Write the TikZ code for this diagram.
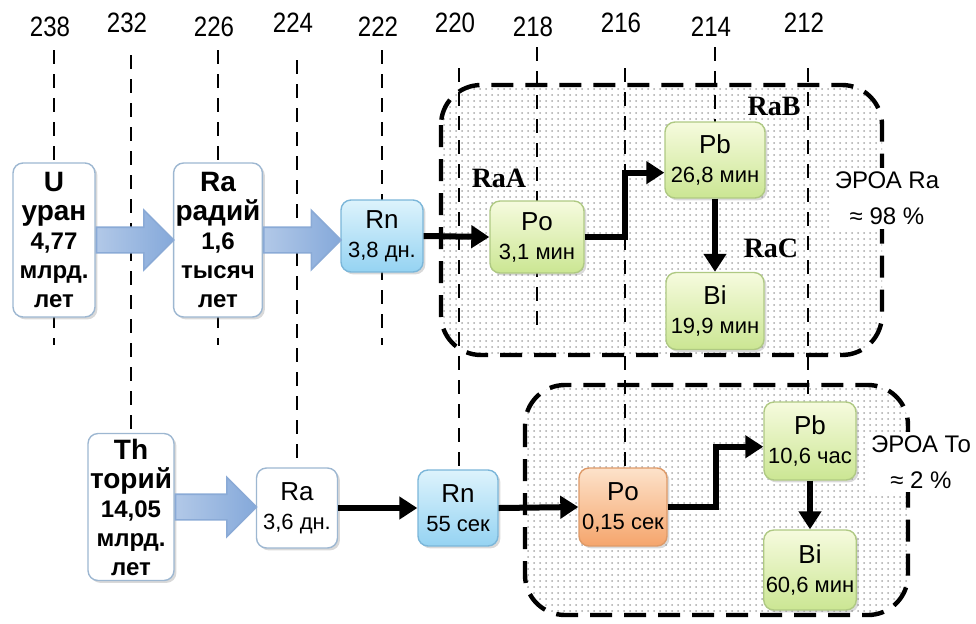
\documentclass[tikz,border=0pt]{standalone}
\usepackage{fontspec}
\setmainfont{Liberation Sans}
\newfontfamily\narrowfont{Liberation Sans}[FakeStretch=0.86]
\newfontfamily\rafont{Liberation Serif}
\usetikzlibrary{calc, arrows.meta, shapes.arrows, patterns, shadows}
\definecolor{BoxEdge}{HTML}{9DB7D1}
\definecolor{RnTop}{HTML}{DDF3FC}
\definecolor{RnBot}{HTML}{95D3F2}
\definecolor{RnEdge}{HTML}{7BB6D9}
\definecolor{GreenTop}{HTML}{F6FBDE}
\definecolor{GreenBot}{HTML}{CBE693}
\definecolor{GreenEdge}{HTML}{AFC983}
\definecolor{PeachTop}{HTML}{FDE2CA}
\definecolor{PeachBot}{HTML}{F5A56C}
\definecolor{PeachEdge}{HTML}{DE9A68}
\definecolor{ArrowBlue}{HTML}{7EA4D8}
\definecolor{ArrowLight}{HTML}{EAF0F9}
\definecolor{ArrowEdge}{HTML}{8AAAD6}
\definecolor{DotGray}{HTML}{A8A8A8}
\newcommand{\isotitle}[1]{{\fontsize{13}{14.5}\selectfont #1}}
\newcommand{\bigline}[1]{{\fontsize{14}{14.5}\selectfont #1}}
\tikzset{
    isobox/.style={rectangle, rounded corners=5pt, draw=BoxEdge, line width=0.7pt,
        fill=white, align=center, inner sep=1pt,
        drop shadow={opacity=0.3, shadow xshift=1.2pt, shadow yshift=-1.2pt}},
    parentbox/.style={isobox, font=\bfseries\fontsize{12}{14.5}\selectfont},
    daughter/.style={isobox, font=\fontsize{11}{14.5}\selectfont},
    rnbox/.style={daughter, top color=RnTop, bottom color=RnBot, draw=RnEdge},
    greenbox/.style={daughter, top color=GreenTop, bottom color=GreenBot, draw=GreenEdge},
    peachbox/.style={daughter, top color=PeachTop, bottom color=PeachBot, draw=PeachEdge},
    fatarrow/.style={single arrow, draw=ArrowEdge, line width=0.8pt,
        inner xsep=0pt, inner ysep=6pt,
        left color=ArrowBlue!60, middle color=ArrowLight, right color=ArrowBlue!95,
        minimum width=29pt, single arrow head extend=8.5pt, anchor=tail},
    decay/.style={line width=3pt, line join=miter, -{Triangle[length=9pt, width=11pt]}},
    region/.style={line width=2.2pt, dash pattern=on 11pt off 6pt, rounded corners=20pt,
        pattern=dots, pattern color=DotGray},
    massline/.style={line width=0.9pt, dash pattern=on 7pt off 5pt},
    masslabel/.style={font=\narrowfont\fontsize{14}{16}\selectfont, inner sep=1pt},
    series/.style={font=\rafont\bfseries\fontsize{14}{16}\selectfont, inner sep=1pt},
    share/.style={fill=white, align=center, inner sep=2pt, font=\fontsize{12}{18}\selectfont}
}

\begin{document}
\begin{tikzpicture}[x=0.5pt, y=-0.5pt]
    \useasboundingbox (0,0) rectangle (976,623);

    % =========================================
    % 1. 区域 (ЭРОА regions)
    % =========================================
    \draw[region] (441,85) rectangle (882,355);
    \draw[region] (525,385) rectangle (908,615);

    % =========================================
    % 2. 质量数刻度 (mass number lines)
    % =========================================
    \foreach \xx/\ya/\yb/\ly/\mass in {54/50/345/27/238, 131/55/433/23/232,
            218/50/345/27/226, 297/60/468/23/224, 382/50/345/27/222,
            459/68/470/23/220, 537/47/330/27/218, 625/68/468/23/216,
            715/47/122/27/214, 808/68/402/23/212} {
        \node[masslabel] (m\mass) at (\xx-4,\ly) {\mass};
        \draw[massline] (\xx,\ya) -- (\xx,\yb);
    }

    % 标签 (labels)
    \node[share] (eroaRa) at (887,198) {ЭРОА Ra\\≈ 98 \%};
    \node[share] (eroaTh) at (921,462) {ЭРОА То\\≈ 2 \%};
    \node[series] (raA) at (499,178) {RaA};
    \node[series] (raB) at (774,106) {RaB};
    \node[series] (raC) at (771,248) {RaC};

    % =========================================
    % 3. 核素 (nuclides)
    % =========================================
    % 铀系 (uranium series)
    \node[parentbox, minimum width=41pt, minimum height=77pt] (u) at (54,240)
        {\bigline{U}\\\bigline{уран}\\4,77\\млрд.\\лет};
    \node[parentbox, minimum width=41pt, minimum height=77pt] (ra1) at (218,240)
        {\bigline{Ra}\\\bigline{радий}\\1,6\\тысяч\\лет};
    \node[rnbox, minimum width=41pt, minimum height=36pt] (rn1) at (382,236)
        {\isotitle{Rn}\\3,8 дн.};
    \node[greenbox, minimum width=47pt, minimum height=36pt] (po1) at (537,237)
        {\isotitle{Po}\\3,1 мин};
    \node[greenbox, minimum width=50pt, minimum height=38pt] (pb1) at (715,160)
        {\isotitle{Pb}\\26,8 мин};
    \node[greenbox, minimum width=49pt, minimum height=38.5pt] (bi1) at (715,311)
        {\isotitle{Bi}\\19,9 мин};

    % 钍系 (thorium series)
    \node[parentbox, minimum width=41.5pt, minimum height=73.5pt] (th) at (131,507)
        {\bigline{Th}\\\bigline{торий}\\14,05\\млрд.\\лет};
    \node[daughter, minimum width=40.5pt, minimum height=40pt] (ra2) at (297,508)
        {\isotitle{Ra}\\3,6 дн.};
    \node[rnbox, minimum width=40pt, minimum height=38pt] (rn2) at (458,508)
        {\isotitle{Rn}\\55 сек};
    \node[peachbox, minimum width=44pt, minimum height=39pt] (po2) at (623,507)
        {\isotitle{Po}\\0,15 сек};
    \node[greenbox, minimum width=46pt, minimum height=39pt] (pb2) at (810,441)
        {\isotitle{Pb}\\10,6 час};
    \node[greenbox, minimum width=46pt, minimum height=40pt] (bi2) at (810,570)
        {\isotitle{Bi}\\60,6 мин};

    % =========================================
    % 4. 衰变箭头 (decay arrows)
    % =========================================
    \foreach \from/\to in {u/ra1, ra1/rn1, th/ra2} {
        \path let \p1=(\from.east), \p2=(\to.west) in
            node[fatarrow, minimum height={\x2-\x1}] at (\x1,\y1) {};
    }

    \draw[decay] (rn1.east) -- (po1.west);
    \draw[decay] (po1.east) -| ($(po1.east)!0.5!(pb1.194)$) |- (pb1.194);
    \draw[decay] (pb1.south) -- (bi1.north);

    \draw[decay] (ra2.east) -- (rn2.west);
    \draw[decay] (rn2.east) -- (po2.west);
    \draw[decay] (po2.east) -| ($(po2.east)!0.5!(pb2.187)$) |- (pb2.187);
    \draw[decay] (pb2.south) -- (bi2.north);

\end{tikzpicture}
\end{document}
